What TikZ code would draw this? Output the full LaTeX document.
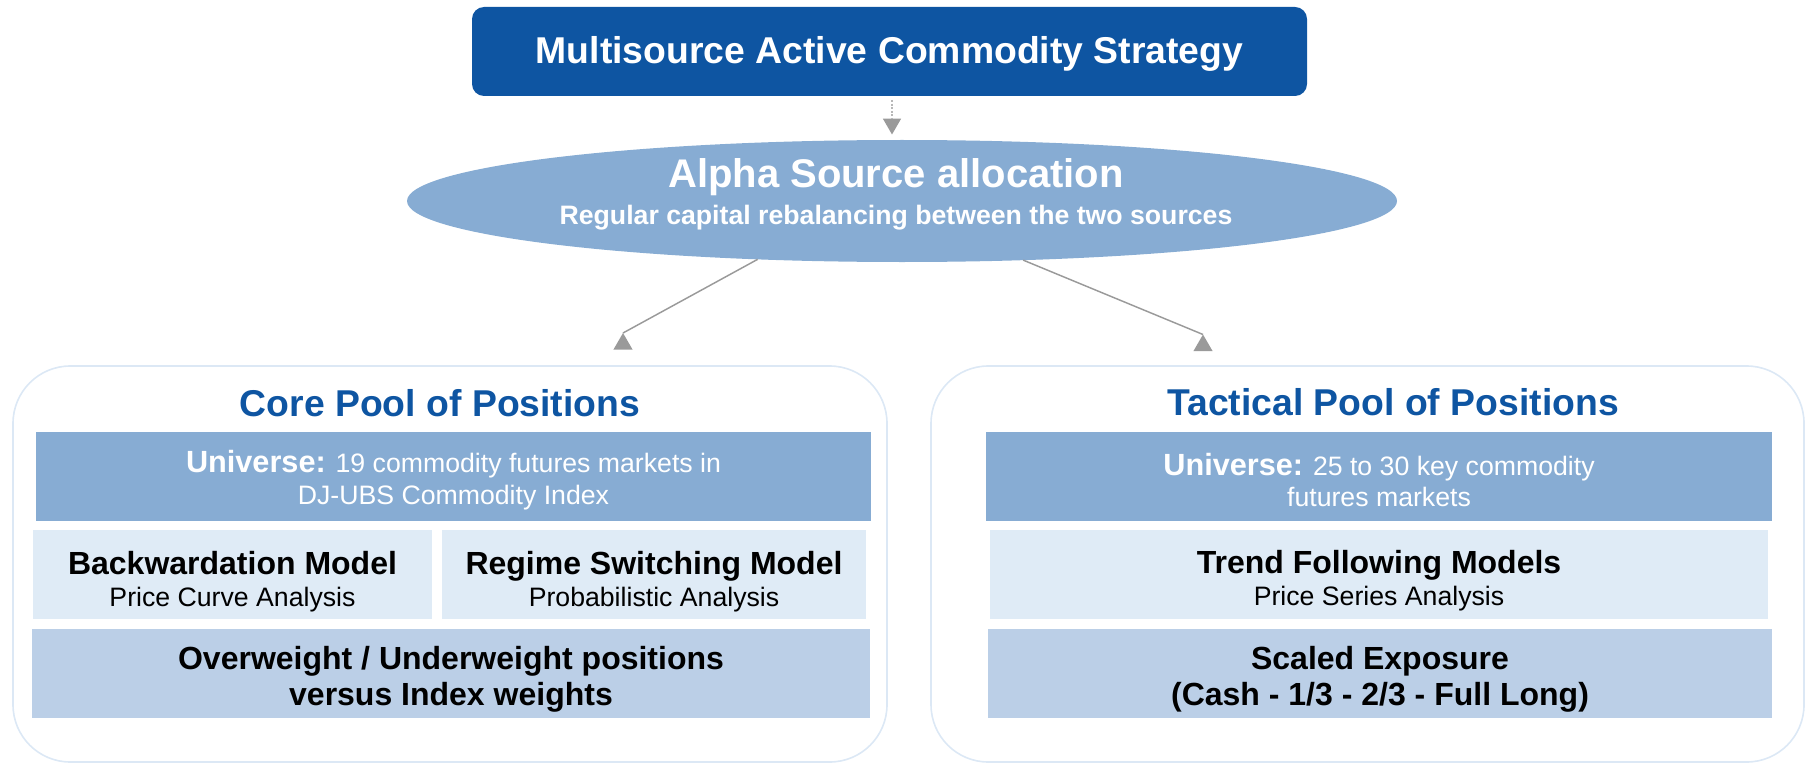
\documentclass[tikz,border=0pt]{standalone}
\usepackage{fontspec}
\setmainfont{Liberation Sans}
\usetikzlibrary{shapes.geometric}
\definecolor{dblue}{HTML}{0E55A2}
\definecolor{mblue}{HTML}{87ACD3}
\definecolor{lblue}{HTML}{DFEBF6}
\definecolor{bblue}{HTML}{BBCFE7}
\definecolor{pborder}{HTML}{DCE8F5}
\definecolor{agray}{HTML}{9A9A9A}
\begin{document}
\begin{tikzpicture}[x=0.75pt,y=-0.75pt,
  sz/.style 2 args={minimum width=#1*0.75pt,minimum height=#2*0.75pt},
  boxbase/.style={inner sep=0pt,outer sep=0pt},
  txt/.style={inner sep=0pt,outer sep=0pt,align=center},
  panel/.style={boxbase,draw=pborder,line width=1.2pt,rounded corners=43pt},
  unibox/.style={boxbase,fill=mblue},
  modbox/.style={boxbase,fill=lblue},
  resbox/.style={boxbase,fill=bblue},
  unitxt/.style={txt,text=white,font=\fontsize{20}{23.5}\selectfont},
  modtxt/.style={txt,text=black,font=\fontsize{20}{24}\selectfont},
  restxt/.style={txt,text=black,font=\fontsize{24}{27}\selectfont\bfseries},
  ptitle/.style={txt,text=dblue,font=\fontsize{28}{32}\selectfont\bfseries},
  tri/.style={regular polygon,regular polygon sides=3,fill=agray,inner sep=0pt,outer sep=0pt},
  conn/.style={draw=agray,line width=1.1pt},
  dotl/.style={draw=agray!70,line width=1.6pt,dash pattern=on 1.5pt off 1.2pt}]
\useasboundingbox (0,0) rectangle (1805,763);

% top box
\node[boxbase,fill=dblue,rounded corners=9pt,sz={835}{89}] (top) at (889.5,51.5) {};
\node[txt,text=white,font=\fontsize{28}{32}\selectfont\bfseries] (topt) at (889.5,54)
  {Multisource Active Commodity Strategy};

% ellipse
\node[ellipse,boxbase,fill=mblue,sz={990}{122}] (alpha) at (902,201) {};
\node[txt,text=white,font=\fontsize{20}{28}\selectfont\bfseries] (alphat) at (896,194.5)
  {{\fontsize{30}{32}\selectfont Alpha Source allocation}\\
   Regular capital rebalancing between the two sources};

% arrowheads
\node[tri,shape border rotate=180,minimum size=21*0.75pt] (tdown) at (892,124) {};
\node[tri,minimum size=22*0.75pt] (tl) at (623,344) {};
\node[tri,minimum size=22*0.75pt] (tr) at (1203,345.5) {};

\draw[dotl] ([yshift=-3pt]top.south -| tdown.north) -- (tdown.north);
\draw[conn] (alpha.202) -- (tl.corner 1);
\draw[conn] (alpha.334) -- (tr.corner 1);

% panels
\node[panel,sz={874}{396}] (corep) at (450,564) {};
\node[panel,sz={873}{396}] (tacp) at (1367.5,564) {};

\node[ptitle] (coret) at (440,403) {Core Pool of Positions};
\node[ptitle] (tact) at (1393,402) {Tactical Pool of Positions};

% left boxes
\node[unibox,sz={835}{89}] (cuni) at (453.5,476.5) {};
\node[unitxt] (cunit) at (453.5,480)
  {{\fontsize{23}{25}\selectfont\bfseries Universe:} 19 commodity futures markets in\\
   DJ-UBS Commodity Index};
\node[modbox,sz={399}{89}] (back) at (232.5,574.5) {};
\node[modtxt] (backt) at (232.5,582)
  {{\fontsize{24}{24}\selectfont\bfseries Backwardation Model}\\Price Curve Analysis};
\node[modbox,sz={424}{89}] (regime) at (654,574.5) {};
\node[modtxt] (regimet) at (654,582)
  {{\fontsize{24}{24}\selectfont\bfseries Regime Switching Model}\\Probabilistic Analysis};
\node[resbox,sz={838}{89}] (over) at (451,673.5) {};
\node[restxt] (overt) at (451,679.5)
  {Overweight / Underweight positions\\versus Index weights};

% right boxes
\node[unibox,sz={786}{89}] (tuni) at (1379,476.5) {};
\node[unitxt] (tunit) at (1379,480)
  {{\fontsize{23}{25}\selectfont\bfseries Universe:} 25 to 30 key commodity\\
   futures markets};
\node[modbox,sz={778}{89}] (trend) at (1379,574.5) {};
\node[modtxt] (trendt) at (1379,581)
  {{\fontsize{24}{24}\selectfont\bfseries Trend Following Models}\\Price Series Analysis};
\node[resbox,sz={784}{89}] (scaled) at (1380,673.5) {};
\node[restxt] (scaledt) at (1380,679.5)
  {Scaled Exposure\\(Cash - 1/3 - 2/3 - Full Long)};
\end{tikzpicture}
\end{document}
